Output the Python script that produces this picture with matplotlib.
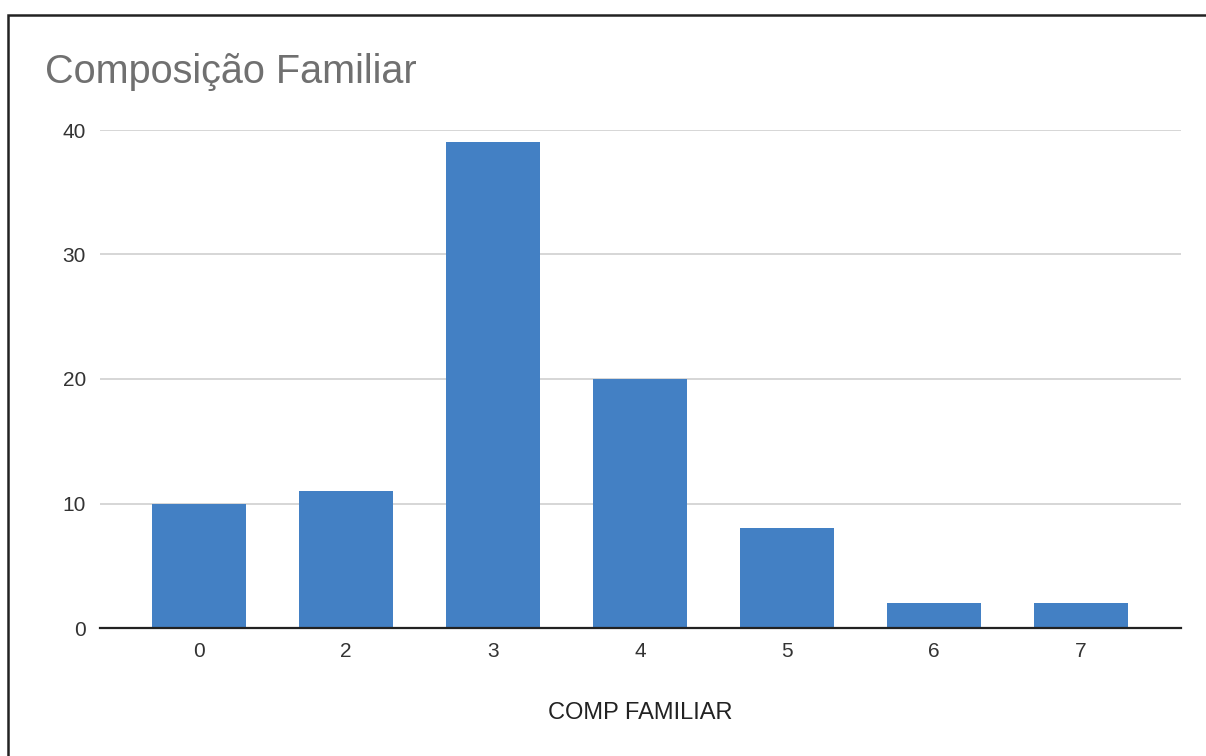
import matplotlib.pyplot as plt
from matplotlib.patches import Rectangle

# Composição familiar: número de famílias por tamanho
categorias = ["0", "2", "3", "4", "5", "6", "7"]
familias = [10, 11, 39, 20, 8, 2, 2]

plt.rcParams["font.family"] = ["Liberation Sans", "DejaVu Sans"]

fig = plt.figure(figsize=(12.06, 7.56), dpi=100)
ax = fig.add_axes([100 / 1206, 1 - 628 / 756, 1081 / 1206, 498 / 756])

x = range(len(categorias))
ax.bar(x, familias, width=0.64, color="#4380c4", zorder=3)

ax.set_ylim(0, 40)
ax.set_xlim(-0.675, 6.68)
ax.set_yticks([0, 10, 20, 30, 40])
ax.set_xticks(list(x))
ax.set_xticklabels(categorias)
ax.grid(axis="y", color="#cfcfcf", linewidth=1.2, zorder=0)
ax.tick_params(length=0, labelsize=15, colors="#333333", pad=10)
ax.tick_params(axis="y", pad=10)

for s in ["top", "right", "left"]:
    ax.spines[s].set_visible(False)
ax.spines["bottom"].set_color("#222222")
ax.spines["bottom"].set_linewidth(1.6)
ax.spines["bottom"].set_zorder(4)

fig.text(640 / 1206, 1 - 713 / 756, "COMP FAMILIAR", fontsize=17,
         color="#222222", ha="center", va="center")

fig.text(45 / 1206, 1 - 72 / 756, "Composição Familiar", fontsize=28.5,
         color="#707070", va="center", ha="left")

# moldura do gráfico
fig.patches.append(Rectangle((8 / 1206, -0.1), 1.2, 1 - 15 / 756 + 0.1,
                             transform=fig.transFigure, fill=False,
                             edgecolor="#222222", linewidth=1.8))

fig.savefig("out.png", dpi=100)
